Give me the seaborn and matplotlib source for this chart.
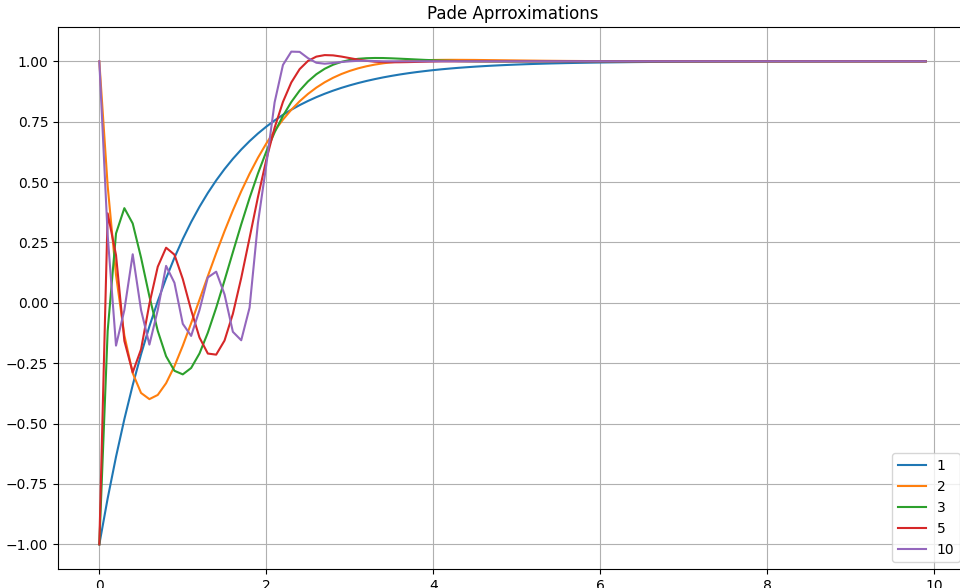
import numpy as np
import pandas as pd
import matplotlib
matplotlib.use("Agg")
import matplotlib.pyplot as plt
import seaborn as sns

# time samples (step 0.1 from 0 to 9.9)
t = np.round(np.arange(100) * 0.1, 1)

order_labels = ["1", "2", "3", "5", "10"]
colors = ["#1f77b4", "#ff7f0e", "#2ca02c", "#d62728", "#9467bd"]

resp_1 = [
    -1.0, -0.8097, -0.6375, -0.4816, -0.3406, -0.2131, -0.0976, 0.0068, 0.1013, 0.1869,
    0.2642, 0.3343, 0.3976, 0.4549, 0.5068, 0.5537, 0.5962, 0.6346, 0.6694, 0.7009,
    0.7293, 0.7551, 0.7784, 0.7995, 0.8186, 0.8358, 0.8515, 0.8656, 0.8784, 0.8900,
    0.9004, 0.9099, 0.9185, 0.9262, 0.9333, 0.9396, 0.9454, 0.9506, 0.9553, 0.9595,
    0.9634, 0.9669, 0.9700, 0.9729, 0.9754, 0.9778, 0.9799, 0.9818, 0.9835, 0.9851,
    0.9865, 0.9878, 0.9890, 0.9900, 0.9910, 0.9918, 0.9926, 0.9933, 0.9939, 0.9945,
    0.9950, 0.9955, 0.9959, 0.9963, 0.9967, 0.9970, 0.9973, 0.9975, 0.9978, 0.9980,
    0.9982, 0.9984, 0.9985, 0.9986, 0.9988, 0.9989, 0.9990, 0.9991, 0.9992, 0.9993,
    0.9993, 0.9994, 0.9994, 0.9995, 0.9996, 0.9996, 0.9996, 0.9997, 0.9997, 0.9997,
    0.9998, 0.9998, 0.9998, 0.9998, 0.9998, 0.9999, 0.9999, 0.9999, 0.9999, 0.9999,
]

resp_2 = [
    1.0, 0.4842, 0.1155, -0.1349, -0.2910, -0.3732, -0.3987, -0.3814, -0.3328, -0.2624,
    -0.1776, -0.0843, 0.0128, 0.1103, 0.2055, 0.2966, 0.3822, 0.4617, 0.5344, 0.6004,
    0.6595, 0.7122, 0.7586, 0.7993, 0.8346, 0.8650, 0.8910, 0.9131, 0.9317, 0.9473,
    0.9602, 0.9708, 0.9794, 0.9863, 0.9917, 0.9960, 0.9993, 1.0017, 1.0034, 1.0047,
    1.0054, 1.0059, 1.0061, 1.0060, 1.0058, 1.0056, 1.0052, 1.0048, 1.0044, 1.0040,
    1.0036, 1.0032, 1.0028, 1.0024, 1.0021, 1.0018, 1.0015, 1.0013, 1.0011, 1.0009,
    1.0008, 1.0006, 1.0005, 1.0004, 1.0003, 1.0002, 1.0002, 1.0001, 1.0001, 1.0001,
    1.0, 1.0, 1.0, 1.0, 1.0, 1.0, 1.0, 1.0, 1.0, 1.0,
    1.0, 1.0, 1.0, 1.0, 1.0, 1.0, 1.0, 1.0, 1.0, 1.0,
    1.0, 1.0, 1.0, 1.0, 1.0, 1.0, 1.0, 1.0, 1.0, 1.0,
]

resp_3 = [
    -1.0, -0.1163, 0.2872, 0.3920, 0.3286, 0.1871, 0.0267, -0.1160, -0.2212, -0.2814,
    -0.2962, -0.2698, -0.2097, -0.1237, -0.0205, 0.0928, 0.2095, 0.3247, 0.4341, 0.5351,
    0.6258, 0.7056, 0.7741, 0.8315, 0.8788, 0.9166, 0.9464, 0.9690, 0.9857, 0.9975,
    1.0055, 1.0103, 1.0128, 1.0137, 1.0135, 1.0123, 1.0108, 1.0092, 1.0075, 1.0058,
    1.0044, 1.0030, 1.0020, 1.0010, 1.0004, 0.9998, 0.9995, 0.9993, 0.9992, 0.9992,
    0.9993, 0.9994, 0.9995, 0.9996, 0.9997, 0.9998, 0.9999, 0.9999, 1.0, 1.0,
    1.0, 1.0, 1.0, 1.0, 1.0, 1.0, 1.0, 1.0, 1.0, 1.0,
    1.0, 1.0, 1.0, 1.0, 1.0, 1.0, 1.0, 1.0, 1.0, 1.0,
    1.0, 1.0, 1.0, 1.0, 1.0, 1.0, 1.0, 1.0, 1.0, 1.0,
    1.0, 1.0, 1.0, 1.0, 1.0, 1.0, 1.0, 1.0, 1.0, 1.0,
]

resp_5 = [
    -1.0, 0.3705, 0.1976, -0.1574, -0.2880, -0.1925, -0.0042, 0.1494, 0.2283, 0.1995,
    0.0985, -0.0300, -0.1436, -0.2100, -0.2145, -0.1562, -0.0456, 0.1028, 0.2687, 0.4373,
    0.5913, 0.7250, 0.8320, 0.9124, 0.9676, 1.0016, 1.0194, 1.0257, 1.0246, 1.0196,
    1.0132, 1.0070, 1.0020, 0.9984, 0.9964, 0.9958, 0.9961, 0.9967, 0.9975, 0.9984,
    0.9993, 1.0, 1.0, 1.0, 1.0, 1.0, 1.0, 1.0, 1.0, 1.0,
    1.0, 1.0, 1.0, 1.0, 1.0, 1.0, 1.0, 1.0, 1.0, 1.0,
    1.0, 1.0, 1.0, 1.0, 1.0, 1.0, 1.0, 1.0, 1.0, 1.0,
    1.0, 1.0, 1.0, 1.0, 1.0, 1.0, 1.0, 1.0, 1.0, 1.0,
    1.0, 1.0, 1.0, 1.0, 1.0, 1.0, 1.0, 1.0, 1.0, 1.0,
    1.0, 1.0, 1.0, 1.0, 1.0, 1.0, 1.0, 1.0, 1.0, 1.0,
]

resp_10 = [
    1.0, 0.28, -0.177, -0.03, 0.201, -0.03, -0.173, -0.03, 0.153, 0.083,
    -0.087, -0.137, -0.03, 0.105, 0.129, 0.035, -0.12, -0.155, -0.02, 0.33,
    0.57, 0.83, 0.985, 1.04, 1.039, 1.013, 0.994, 0.99, 0.993, 0.997,
    1.0, 1.002, 1.002, 1.001, 1.0, 1.0, 1.0, 1.0, 1.0, 1.0,
    1.0, 1.0, 1.0, 1.0, 1.0, 1.0, 1.0, 1.0, 1.0, 1.0,
    1.0, 1.0, 1.0, 1.0, 1.0, 1.0, 1.0, 1.0, 1.0, 1.0,
    1.0, 1.0, 1.0, 1.0, 1.0, 1.0, 1.0, 1.0, 1.0, 1.0,
    1.0, 1.0, 1.0, 1.0, 1.0, 1.0, 1.0, 1.0, 1.0, 1.0,
    1.0, 1.0, 1.0, 1.0, 1.0, 1.0, 1.0, 1.0, 1.0, 1.0,
    1.0, 1.0, 1.0, 1.0, 1.0, 1.0, 1.0, 1.0, 1.0, 1.0,
]

series = [resp_1, resp_2, resp_3, resp_5, resp_10]
df = pd.concat(
    [pd.DataFrame({"t": t, "y": vals, "order": lab}) for lab, vals in zip(order_labels, series)],
    ignore_index=True,
)

fig = plt.figure(figsize=(9.6, 5.88), dpi=100)
ax = fig.add_axes([58 / 960, 19 / 588, 909 / 960, 542 / 588])
sns.lineplot(
    data=df, x="t", y="y", hue="order", hue_order=order_labels,
    palette=colors, sort=False, estimator=None, errorbar=None,
    linewidth=1.5, ax=ax,
)
ax.set_title("Pade Aprroximations")
ax.set_xlabel("")
ax.set_ylabel("")
ax.grid(True)

old = ax.get_legend()
handles = old.legend_handles
labels = [tx.get_text() for tx in old.texts]
old.remove()
ax.legend(handles, labels, loc="lower right")

fig.savefig("out.png", dpi=100)
